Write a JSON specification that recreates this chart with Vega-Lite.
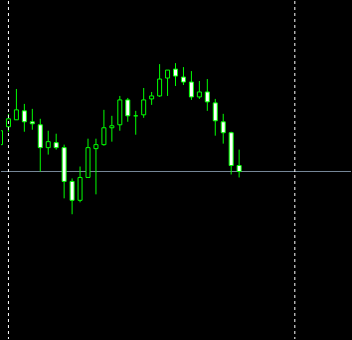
{
  "$schema": "https://vega.github.io/schema/vega-lite/v6.json",
  "width": 352,
  "height": 340,
  "autosize": {"type": "fit", "contains": "padding"},
  "padding": 0,
  "background": "#000000",
  "config": {"view": {"stroke": null}},
  "datasets": {
    "candles": [
      {"i": 0, "open": 1.2856, "high": 1.2870, "low": 1.2856, "close": 1.2870},
      {"i": 1, "open": 1.2874, "high": 1.2887, "low": 1.2869, "close": 1.2882},
      {"i": 2, "open": 1.2881, "high": 1.2912, "low": 1.2881, "close": 1.2891},
      {"i": 3, "open": 1.2890, "high": 1.2897, "low": 1.2869, "close": 1.2879},
      {"i": 4, "open": 1.2879, "high": 1.2892, "low": 1.2871, "close": 1.2877},
      {"i": 5, "open": 1.2876, "high": 1.2882, "low": 1.2829, "close": 1.2853},
      {"i": 6, "open": 1.2853, "high": 1.2870, "low": 1.2846, "close": 1.2859},
      {"i": 7, "open": 1.2858, "high": 1.2867, "low": 1.2851, "close": 1.2853},
      {"i": 8, "open": 1.2853, "high": 1.2856, "low": 1.2802, "close": 1.2819},
      {"i": 9, "open": 1.2819, "high": 1.2822, "low": 1.2786, "close": 1.2800},
      {"i": 10, "open": 1.2800, "high": 1.2834, "low": 1.2798, "close": 1.2823},
      {"i": 11, "open": 1.2823, "high": 1.2862, "low": 1.2823, "close": 1.2853},
      {"i": 12, "open": 1.2852, "high": 1.2862, "low": 1.2806, "close": 1.2856},
      {"i": 13, "open": 1.2856, "high": 1.2891, "low": 1.2855, "close": 1.2873},
      {"i": 14, "open": 1.2873, "high": 1.2885, "low": 1.2859, "close": 1.2875},
      {"i": 15, "open": 1.2876, "high": 1.2905, "low": 1.2870, "close": 1.2901},
      {"i": 16, "open": 1.2901, "high": 1.2903, "low": 1.2879, "close": 1.2885},
      {"i": 17, "open": 1.2885, "high": 1.2890, "low": 1.2866, "close": 1.2885},
      {"i": 18, "open": 1.2886, "high": 1.2913, "low": 1.2883, "close": 1.2901},
      {"i": 19, "open": 1.2902, "high": 1.2909, "low": 1.2896, "close": 1.2905},
      {"i": 20, "open": 1.2905, "high": 1.2937, "low": 1.2904, "close": 1.2922},
      {"i": 21, "open": 1.2923, "high": 1.2931, "low": 1.2905, "close": 1.2931},
      {"i": 22, "open": 1.2932, "high": 1.2938, "low": 1.2915, "close": 1.2925},
      {"i": 23, "open": 1.2924, "high": 1.2934, "low": 1.2916, "close": 1.2919},
      {"i": 24, "open": 1.2919, "high": 1.2930, "low": 1.2901, "close": 1.2904},
      {"i": 25, "open": 1.2904, "high": 1.2920, "low": 1.2902, "close": 1.2909},
      {"i": 26, "open": 1.2909, "high": 1.2922, "low": 1.2890, "close": 1.2899},
      {"i": 27, "open": 1.2898, "high": 1.2902, "low": 1.2865, "close": 1.2880},
      {"i": 28, "open": 1.2879, "high": 1.2887, "low": 1.2857, "close": 1.2868},
      {"i": 29, "open": 1.2868, "high": 1.2869, "low": 1.2826, "close": 1.2835},
      {"i": 30, "open": 1.2835, "high": 1.2851, "low": 1.2823, "close": 1.2829}
    ],
    "separators": [{"i": 1}, {"i": 37}]
  },
  "layer": [
    {
      "data": {"values": [{"bid": 1.2829}]},
      "mark": {"type": "rule", "color": "#778899", "strokeWidth": 1},
      "encoding": {
        "y": {"field": "bid", "type": "quantitative", "scale": {"domain": [1.26605, 1.30005], "nice": false, "zero": false, "padding": 0}, "axis": null}
      }
    },
    {
      "data": {"name": "candles"},
      "mark": {"type": "rule", "color": "#00ff00", "strokeWidth": 1, "clip": true},
      "encoding": {
        "x": {"field": "i", "type": "quantitative", "scale": {"domain": [0.0625, 44.0625], "nice": false, "zero": false, "padding": 0}, "axis": null},
        "y": {"field": "low", "type": "quantitative", "scale": {"domain": [1.26605, 1.30005], "nice": false, "zero": false, "padding": 0}, "axis": null},
        "y2": {"field": "high"}
      }
    },
    {
      "data": {"name": "candles"},
      "transform": [
        {"calculate": "datum.close > datum.open ? 'up' : (datum.close < datum.open ? 'down' : 'flat')", "as": "dir"}
      ],
      "mark": {"type": "bar", "size": 4, "stroke": "#00ff00", "strokeWidth": 1, "clip": true},
      "encoding": {
        "x": {"field": "i", "type": "quantitative", "scale": {"domain": [0.0625, 44.0625], "nice": false, "zero": false, "padding": 0}, "axis": null},
        "y": {"field": "open", "type": "quantitative", "scale": {"domain": [1.26605, 1.30005], "nice": false, "zero": false, "padding": 0}, "axis": null},
        "y2": {"field": "close"},
        "fill": {"field": "dir", "type": "nominal", "scale": {"domain": ["up", "down", "flat"], "range": ["#000000", "#ffffff", "#000000"]}, "legend": null}
      }
    },
    {
      "data": {"name": "separators"},
      "mark": {"type": "rule", "color": "#ffffff", "strokeWidth": 1, "strokeDash": [3, 3]},
      "encoding": {
        "x": {"field": "i", "type": "quantitative", "scale": {"domain": [0.0625, 44.0625], "nice": false, "zero": false, "padding": 0}, "axis": null}
      }
    }
  ]
}
